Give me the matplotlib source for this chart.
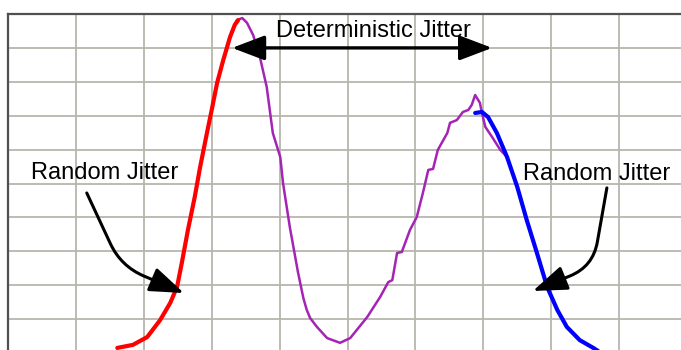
import matplotlib
matplotlib.use("Agg")
import matplotlib.pyplot as plt

# Measured histogram (grid divisions)
hist_x = [1.61,1.84,2.05,2.24,2.39,2.49,2.56,2.65,2.75,2.83,2.93,3.00,3.08,3.17,3.27,3.34,
          3.37,3.45,3.52,3.61,3.71,3.81,3.90,4.01,4.05,4.15,4.27,4.35,4.40,4.45,4.55,4.70,
          4.89,5.04,5.29,5.48,5.60,5.66,5.73,5.80,5.92,6.02,6.11,6.19,6.26,6.33,6.47,6.51,
          6.61,6.70,6.78,6.83,6.88,6.95,6.98,7.03,7.14,7.25,7.35,7.50,7.64,7.79,7.94,8.09,
          8.23,8.42,8.62,8.72]
hist_y = [0.15,0.24,0.47,0.97,1.48,1.95,2.66,3.63,4.60,5.49,6.49,7.17,7.97,8.64,9.32,9.68,
          9.82,9.88,9.74,9.38,8.73,7.85,6.49,5.78,5.02,3.72,2.39,1.62,1.27,1.03,0.77,0.44,
          0.30,0.44,1.06,1.65,2.09,2.15,2.95,2.98,3.63,4.01,4.72,5.40,5.43,5.99,6.49,6.79,
          6.87,7.11,7.17,7.32,7.61,7.38,7.08,6.67,6.34,5.99,5.78,4.90,3.92,2.95,1.95,1.27,
          0.77,0.38,0.15,0.03]

# Gaussian tail fits
left_x = [1.61,1.84,2.05,2.24,2.39,2.49,2.56,2.65,2.75,2.83,2.93,3.00,3.08,3.17,3.27,3.34,3.39]
left_y = [0.15,0.24,0.47,0.97,1.48,1.95,2.66,3.63,4.60,5.49,6.49,7.17,7.97,8.64,9.32,9.68,9.82]
right_x = [6.88,6.98,7.07,7.20,7.35,7.50,7.64,7.79,7.94,8.09,8.23,8.42,8.62,8.69]
right_y = [7.08,7.11,6.96,6.49,5.78,4.90,3.92,2.95,1.95,1.27,0.77,0.38,0.15,0.06]

label_dj = "Deterministic Jitter"
label_rj = "Random Jitter"

W, H = 681, 350
fig = plt.figure(figsize=(W/100, H/100), dpi=100)
ax = fig.add_axes([8/W, 0, (W-8)/W, (H-14)/H])
ax.set_xlim(0, (W-8)/67.9)
ax.set_ylim((353-350)/33.9, 10)

ax.set_xticks(range(1, 10))
ax.set_yticks(range(1, 10))
ax.tick_params(length=0, labelbottom=False, labelleft=False)
ax.grid(True, color="#b6b6ae", lw=1.3)
ax.set_axisbelow(True)
for s in ["right", "bottom"]:
    ax.spines[s].set_visible(False)
for s in ["left", "top"]:
    ax.spines[s].set_color("#505050")
    ax.spines[s].set_linewidth(1.6)

ax.plot(hist_x, hist_y, color="#a424b4", lw=1.8, solid_joinstyle="round", zorder=3)
ax.plot(left_x, left_y, color="#ff0000", lw=3.0, solid_capstyle="round", zorder=4)
ax.plot(right_x, right_y, color="#0000ff", lw=3.0, solid_capstyle="round", zorder=4)

font = dict(family=["Liberation Sans", "DejaVu Sans"], fontsize=17, color="black")

# Deterministic jitter double arrow
ax.annotate("", xy=(3.30, 9.0), xytext=(7.13, 9.0),
            arrowprops=dict(arrowstyle="<|-|>,head_length=1.0,head_width=0.38",
                            mutation_scale=20, lw=2.4, color="black",
                            shrinkA=0, shrinkB=0), zorder=6)
ax.text((373-8)/67.9, (353-37)/33.9, label_dj, ha="center", va="baseline", zorder=7, **font)

# Random jitter labels and curved arrows
ax.text((105-8)/67.9, (353-179)/33.9, label_rj, ha="center", va="baseline", zorder=7, **font)
ax.text((597-8)/67.9, (353-180)/33.9, label_rj, ha="center", va="baseline", zorder=7, **font)

ax.annotate("", xy=(2.59, 1.77), xytext=(1.16, 4.72),
            arrowprops=dict(arrowstyle="-|>,head_length=1.05,head_width=0.38",
                            mutation_scale=20, lw=2.2, color="black",
                            connectionstyle="angle,angleA=-65,angleB=-23,rad=25",
                            shrinkA=0, shrinkB=0), zorder=6)
ax.annotate("", xy=(7.73, 1.83), xytext=(8.82, 4.87),
            arrowprops=dict(arrowstyle="-|>,head_length=1.05,head_width=0.38",
                            mutation_scale=20, lw=2.2, color="black",
                            connectionstyle="angle,angleA=-100,angleB=-158,rad=25",
                            shrinkA=0, shrinkB=0), zorder=6)

fig.savefig("out.png", dpi=100)
